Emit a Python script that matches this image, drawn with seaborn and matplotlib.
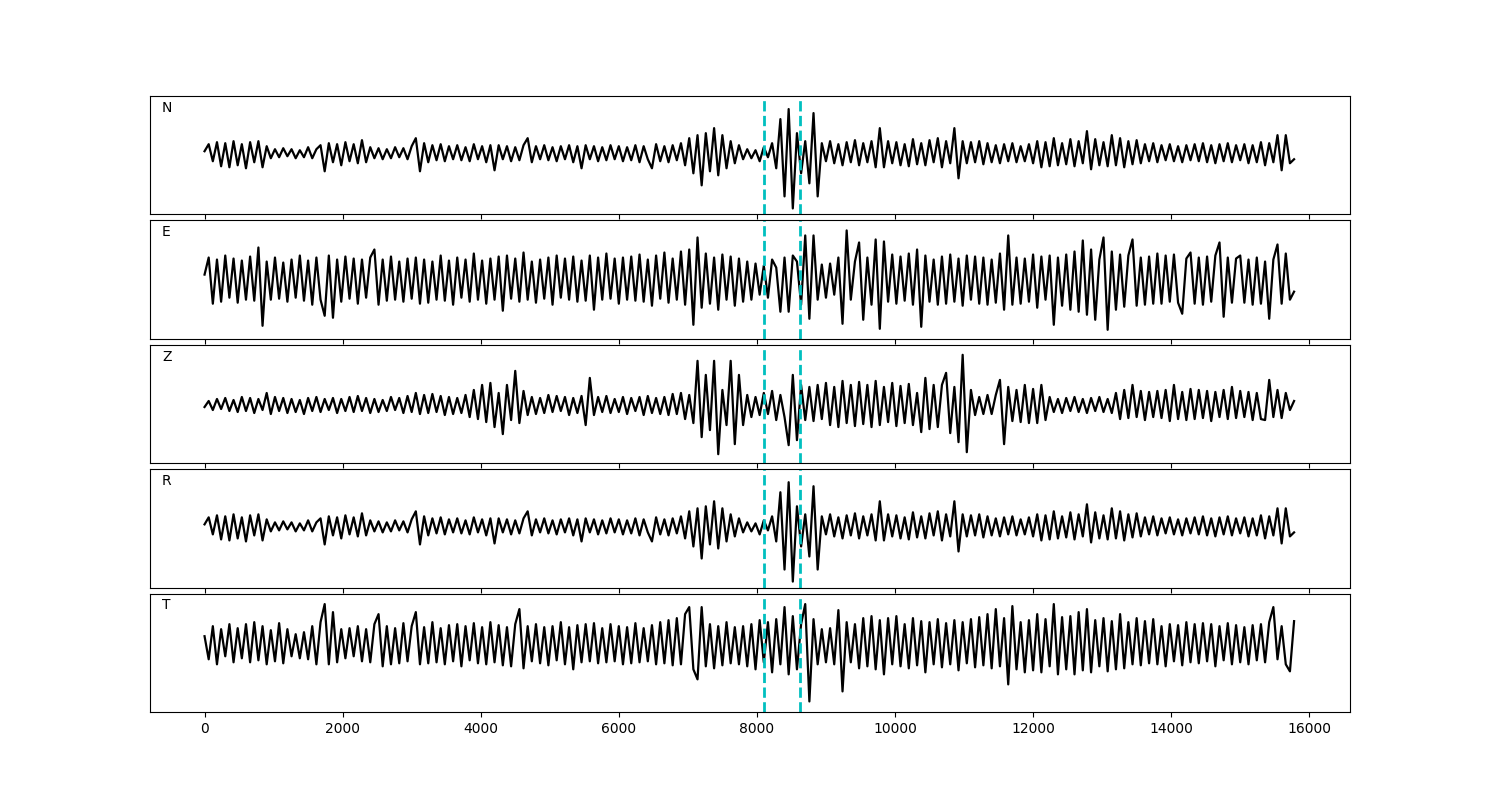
import numpy as np
import matplotlib
matplotlib.use("Agg")
import matplotlib.pyplot as plt
import seaborn as sns

# sample spacing of the traces (one every 60 samples)
dt = 60

# pick times (cyan dashed lines)
picks = [8110, 8620]

# channel names
channels = ["N", "E", "Z", "R", "T"]

# trace amplitudes (arbitrary units, up is positive)
n_amp = [2, 9, -8, 11, -13, 10, -14, 12, -12, 9,
         -15, 11, -9, 12, -14, 7, -5, 4, -4, 5,
         -3, 4, -5, 3, -4, 6, -5, 4, 8, -18,
         10, -9, 9, -12, 11, -8, 9, -10, 13, -9,
         6, -5, 5, -6, 4, -5, 6, -4, 5, -6,
         7, 15, -18, 10, -9, 8, -7, 9, -8, 7,
         -6, 8, -7, 6, -8, 9, -6, 7, -9, 8,
         -17, 8, -6, 7, -8, 6, -7, 8, 15, -9,
         7, -6, 8, -7, 6, -8, 7, -6, 8, -9,
         7, -15, 8, -6, 7, -8, 6, -7, 8, -6,
         7, -8, 6, -7, 8, -9, 7, -6, -15, 9,
         -8, 7, -9, 8, -7, 10, -12, 15, -20, 18,
         -32, 20, -18, 25, -22, 18, -15, 12, -10, 8,
         -6, 4, -5, 3, -8, 6, -4, 10, -15, 34,
         -43, 44, -55, 20, -20, 12, -30, 40, -43, 10,
         -8, 12, -10, 9, -12, 11, -9, 13, -12, 10,
         -9, 12, -14, 25, -14, 12, -10, 11, -12, 9,
         -13, 14, -11, 10, -12, 13, -9, 15, -14, 12,
         -10, 25, -25, 12, -10, 11, -9, 12, -11, 10,
         -9, 8, -10, 9, -8, 10, -9, 7, -8, 9,
         -10, 12, -14, 11, -13, 15, -12, 10, -11, 14,
         -13, 12, -10, 22, -16, 14, -12, 11, -13, 18,
         -12, 15, -14, 12, -11, 13, -10, 9, -8, 10,
         -9, 8, -7, 9, -8, 7, -9, 8, -7, 9,
         -8, 10, -9, 8, -10, 9, -8, 10, -9, 8,
         -7, 9, -10, 8, -9, 11, -12, 10, -9, 18,
         -17, 18, -10, -6]

e_amp = [5, 22, -24, 20, -22, 24, -18, 21, -23, 19,
         -20, 23, -21, 32, -46, 18, -20, 22, -19, 17,
         -22, 20, -18, 24, -21, 19, -25, 22, -20, -36,
         24, -38, 20, -22, 23, -19, 21, -24, 20, -18,
         22, 30, -25, 20, -21, 23, -20, 18, -22, 21,
         -19, 22, -24, 20, -23, 18, -20, 24, -21, 19,
         -25, 22, -18, 20, -22, 26, -20, 19, -24, 21,
         -20, 23, -31, 24, -19, 21, -22, 27, -20, 18,
         -23, 20, -19, 22, -25, 24, -18, 21, -20, 23,
         -22, 19, -21, 24, -30, 22, -20, 26, -19, 21,
         -24, 22, -20, 23, -21, 25, -22, 20, -26, 24,
         -19, 27, -23, 21, -20, 28, -25, 30, -45, 42,
         -28, 26, -24, 22, -30, 25, -20, 23, -26, 21,
         -22, 18, -20, 16, -15, 14, -18, 20, 12, -32,
         22, -32, 24, 18, -25, 44, -39, 44, -20, 15,
         -18, 16, -15, 22, -44, 49, -20, 18, 37, -40,
         22, -25, 40, -49, 38, -22, 25, -24, 23, -21,
         26, -25, 30, -47, 24, -22, 20, -25, 23, -24,
         25, -22, 21, -26, 24, -20, 23, -24, 22, -25,
         20, -23, 26, -30, 44, -25, 22, -24, 21, -22,
         25, -28, 23, -20, 24, -45, 22, -26, 25, -30,
         28, -32, 39, -35, 30, -40, 20, 42, -50, 28,
         -30, 25, -27, 24, 40, -26, 22, -25, 23, -24,
         26, -24, 24, -22, 25, -23, -34, 21, 27, -24,
         22, -25, 23, -22, 24, 37, -37, 22, -23, 21,
         24, -23, 20, -25, 22, -24, 18, -39, 20, 35,
         -24, 26, -20, -12]

z_amp = [-2, 4, -5, 6, -4, 7, -6, 5, -7, 8,
         -6, 7, -8, 6, -5, 12, -9, 8, -6, 7,
         -8, 6, -7, 5, -9, 7, -6, 8, -7, 6,
         -5, 7, -8, 6, -6, 8, -7, 9, -6, 7,
         -8, 6, -7, 5, -6, 8, -5, 7, -8, 9,
         -7, 12, -9, 10, -8, 11, -7, 9, -10, 8,
         -9, 7, -8, 10, -12, 15, -14, 20, -17, 22,
         -22, 12, -29, 20, -15, 34, -18, 14, -10, 8,
         -9, 7, -8, 10, -7, 9, -6, 8, -10, 7,
         -8, 9, -20, 27, -10, 8, -7, 9, -8, 6,
         -7, 8, -9, 7, -6, 8, -10, 9, -8, 7,
         -9, 8, -10, 11, -9, 12, -14, 10, -18, 44,
         -32, 30, -25, 44, -49, 15, -20, 44, -39, 30,
         -20, 10, -12, 8, -10, 12, -9, 14, -15, 10,
         -12, -40, 30, -35, 20, -15, 18, -16, 20, -14,
         22, -20, 18, -22, 24, -18, 20, -21, 23, -19,
         20, -22, 24, -20, 18, -17, 22, -21, 19, -18,
         21, -20, 12, -27, 27, -24, 20, -22, 20, 32,
         -28, 18, -37, 50, -47, 15, -10, 8, -9, 10,
         -9, 10, 25, -39, 18, -16, 15, -17, 20, -18,
         16, -18, 20, -15, 8, -7, 6, -8, 7, -6,
         8, -7, 6, -8, 7, -6, 8, -7, 6, -8,
         12, -14, 15, -13, 20, -12, 14, -15, 13, -12,
         14, -13, 15, -16, 20, -14, 13, -15, 16, -14,
         15, -13, 14, -16, 13, -12, 15, -14, 18, -13,
         14, -12, 13, -15, 12, -14, -15, 25, -12, 15,
         -13, 12, -5, 4]

# R looks the same as N in the picture
r_amp = list(n_amp)

t_amp = [8, -15, 18, -20, 15, -12, 20, -18, 16, -14,
         20, -18, 22, -16, 18, -20, 14, -17, 21, -19,
         15, -12, 10, -14, 12, -15, 18, -20, 22, 40,
         -20, 32, -18, 15, -14, 16, -12, 18, -17, 15,
         -18, 20, 30, -22, 18, -20, 16, -19, 21, -17,
         18, 32, -20, 17, -19, 22, -18, 16, -20, 19,
         -17, 20, -22, 18, -16, 21, -19, 17, -20, 22,
         -18, 19, -21, 17, -22, 20, 35, -24, 18, -17,
         20, -19, 17, -21, 18, -16, 22, -20, 17, -25,
         19, -18, 20, -17, 21, -19, 16, -18, 20, -17,
         18, -20, 17, -19, 21, -18, 16, -17, 19, -20,
         22, -19, 24, -21, 26, -20, 30, 37, -25, -35,
         37, -22, 20, -24, 18, -21, 22, -19, 17, -20,
         18, -22, 20, -25, 24, -18, 22, -28, 25, -20,
         37, -30, 28, -25, 20, 40, -57, 25, -20, 15,
         -18, 16, -20, 34, -47, 22, -18, 20, -24, 26,
         -22, 28, -25, 24, -30, 26, -20, 28, -22, 20,
         -24, 26, -21, 23, -28, 22, -20, 25, -23, 21,
         -20, 24, -26, 22, -19, 25, -23, 27, -21, 30,
         -24, 35, -22, 26, -40, 38, -25, 22, -28, 24,
         -26, 30, -28, 25, -22, 40, -30, 27, -25, 28,
         -30, 32, -26, 35, -28, 24, -22, 26, -27, 23,
         -25, 30, -24, 22, -20, 26, -21, 23, -19, 25,
         -20, 18, -22, 20, -17, 19, -21, 22, -18, 20,
         -19, 21, -17, 20, -22, 18, -16, 21, -20, 19,
         -18, 17, -20, 19, -16, 20, -18, 22, 37, -15,
         18, -20, -27, 23]

traces = [n_amp, e_amp, z_amp, r_amp, t_amp]
# how far each trace's zero line sits above the panel middle
offsets = [2, 0, -1, 2, 8.5]

fig, axes = plt.subplots(5, 1, sharex=True, figsize=(15, 8))
plt.subplots_adjust(left=0.1, right=0.9, top=0.88, bottom=0.11, hspace=0.05)

for ax, name, amp, off in zip(axes, channels, traces, offsets):
    t = np.arange(len(amp)) * dt
    sns.lineplot(x=t, y=amp, ax=ax, color="k", linewidth=1.6, sort=False, estimator=None)
    for p in picks:
        ax.axvline(p, color="c", linestyle="--", linewidth=2)
    ax.set_ylim(-59 - off, 59 - off)
    ax.set_yticks([])
    ax.text(0.01, 0.9, name, transform=ax.transAxes, va="center", fontsize=10)

axes[-1].set_xlim(-790, 16590)

plt.savefig("out.png", dpi=100)
